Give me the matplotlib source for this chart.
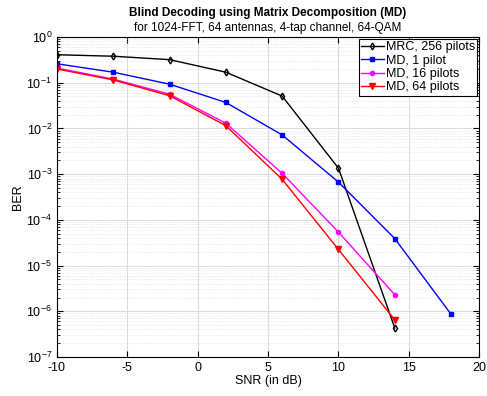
import matplotlib
matplotlib.use('Agg')
import matplotlib.pyplot as plt
import numpy as np

plt.rcParams['font.family'] = ['Liberation Sans', 'DejaVu Sans']
plt.rcParams['axes.unicode_minus'] = False

snr = [-10, -6, -2, 2, 6, 10, 14]
snr_md1 = [-10, -6, -2, 2, 6, 10, 14, 18]

ber_mrc = [0.41, 0.38, 0.32, 0.17, 0.051, 1.35e-3, 4.3e-7]
ber_md1 = [0.26, 0.17, 0.093, 0.037, 7.2e-3, 6.7e-4, 3.9e-5, 8.6e-7]
ber_md16 = [0.21, 0.12, 0.056, 0.013, 1.04e-3, 5.4e-5, 2.3e-6]
ber_md64 = [0.20, 0.115, 0.052, 0.0115, 7.7e-4, 2.25e-5, 6.5e-7]

fig = plt.figure(figsize=(4.87, 3.96), dpi=100)
ax = fig.add_axes([0.117, 0.0985, 0.867, 0.808])

ax.semilogy(snr, ber_mrc, '-d', color='k', lw=1, ms=3.5, mfc='none', mew=1,
            label='MRC, 256 pilots')
ax.semilogy(snr_md1, ber_md1, '-s', color='#0000ff', lw=1, ms=3, mew=1,
            label='MD, 1 pilot')
ax.semilogy(snr, ber_md16, '-o', color='#ff00ff', lw=1, ms=3, mew=1,
            label='MD, 16 pilots')
ax.semilogy(snr, ber_md64, '-v', color='#ff0000', lw=1, ms=4, mew=1,
            label='MD, 64 pilots')

ax.set_xlim(-10, 20)
ax.set_ylim(1e-7, 1)
ax.set_xticks([-10, -5, 0, 5, 10, 15, 20])
ax.set_yticks([10.0 ** k for k in range(-7, 1)])
ax.grid(True, which='major', color='#dcdcdc', lw=0.8)
ax.grid(True, which='minor', color='#d8d8d8', lw=0.5, ls=':')
ax.set_axisbelow(True)
ax.tick_params(which='both', direction='in', top=True, right=True, labelsize=9)
ax.tick_params(which='major', length=4)
ax.tick_params(which='minor', length=2)
for s in ax.spines.values():
    s.set_linewidth(0.8)

ax.set_xlabel('SNR (in dB)', fontsize=9, labelpad=1)
ax.set_ylabel('BER', fontsize=9, labelpad=2)
fig.text(0.55, 0.966, 'Blind Decoding using Matrix Decomposition (MD)',
         ha='center', va='center', fontsize=8.5, fontweight='bold')
fig.text(0.55, 0.93, 'for 1024-FFT, 64 antennas, 4-tap channel, 64-QAM',
         ha='center', va='center', fontsize=8.5)

leg = ax.legend(loc='upper right', fontsize=9, fancybox=False, framealpha=1,
                edgecolor='k', borderpad=0.2, labelspacing=0.1,
                handlelength=1.8, handletextpad=0.15, borderaxespad=0.15)
leg.get_frame().set_linewidth(0.8)

fig.savefig('out.png', dpi=100)
